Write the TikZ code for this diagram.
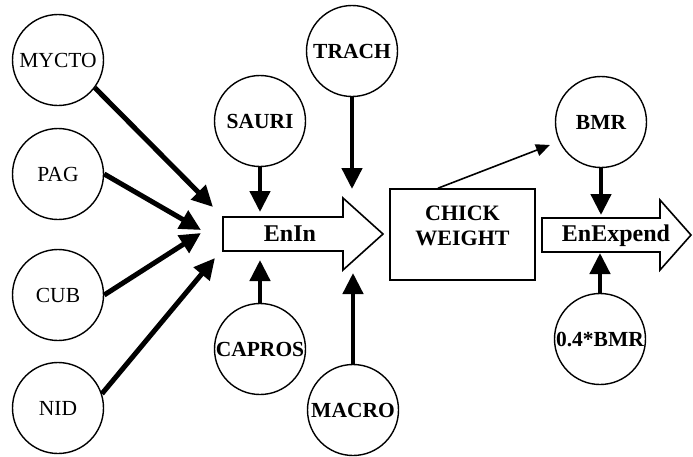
\documentclass[tikz,border=0pt]{standalone}
\usepackage{fontspec}
\setmainfont{Liberation Serif}
\usetikzlibrary{arrows.meta}

\newcommand{\poolfont}{\fontsize{21.5}{24}\selectfont}

\begin{document}
\begin{tikzpicture}[x=1pt,y=-1pt,
		pool/.style={circle, draw, line width=1.4pt, minimum size=91pt, inner sep=0pt, font=\poolfont},
		bpool/.style={pool, font=\poolfont\bfseries},
		flow/.style={-{Triangle[length=21pt,width=20pt]}, line width=4.5pt},
		thinflow/.style={-{Triangle[length=14pt,width=12pt]}, line width=1.6pt},
		blockarrow/.style={draw, line width=1.6pt, line join=miter}]
		\useasboundingbox (0,0) rectangle (693,456);
		% left inputs
		\node[pool] (mycto) at (58,60) {MYCTO};
		\node[pool] (pag) at (58,174) {PAG};
		\node[pool] (cub) at (58,295) {CUB};
		\node[pool] (nid) at (58,408) {NID};
		% upper and lower inputs
		\node[bpool] (sauri) at (260,121) {SAURI};
		\node[bpool] (trach) at (352,51) {TRACH};
		\node[bpool] (capros) at (260,349) {CAPROS};
		\node[bpool] (macro) at (353,410) {MACRO};
		\node[bpool] (bmr) at (601,122) {BMR};
		\node[bpool] (pbmr) at (600,339) {0.4*BMR};
		% block arrows
		\draw[blockarrow] (223,217) -- (343,217) -- (343,198) -- (383,234) -- (343,270) -- (343,251) -- (223,251) -- cycle;
		\node[font=\fontsize{24}{26}\selectfont\bfseries] (enin) at (290,234) {EnIn};
		\draw[blockarrow] (542,218) -- (660,218) -- (660,200) -- (691,235) -- (660,270) -- (660,252) -- (542,252) -- cycle;
		\node[font=\fontsize{24}{26}\selectfont\bfseries] (enexp) at (616,236) {EnExpend};
		% chick weight
		\node[draw, line width=1.6pt, minimum width=145pt, minimum height=91pt] (weight) at (462.5,234.5) {};
		\node[font=\fontsize{22}{25}\selectfont\bfseries, align=center] (wlbl) at ([yshift=9pt]weight.center) {CHICK\\WEIGHT};
		% arrow ends
		\coordinate (e1) at (213,207);
		\coordinate (e2) at (201,230);
		\coordinate (e3) at (201,233);
		\coordinate (e4) at (215,258);
		\coordinate (e5) at (550,145);
		% connectors
		\draw[flow, line width=5pt] (mycto.-37) -- (e1);
		\draw[flow, line width=5pt] (pag.east) -- (e2);
		\draw[flow, line width=5pt] (cub.east) -- (e3);
		\draw[flow, line width=5pt] (nid.18) -- (e4);
		\draw[flow] (sauri.south) -- (260,212);
		\draw[flow] (trach.south) -- (352,189);
		\draw[flow] (capros.north) -- (260,260);
		\draw[flow] (macro.north) -- (353,273);
		\draw[flow] (bmr.south) -- (601,215);
		\draw[flow] (pbmr.north) -- (600,253);
		\draw[thinflow] ([xshift=-24.5pt]weight.north) -- (e5);
	\end{tikzpicture}
\end{document}
